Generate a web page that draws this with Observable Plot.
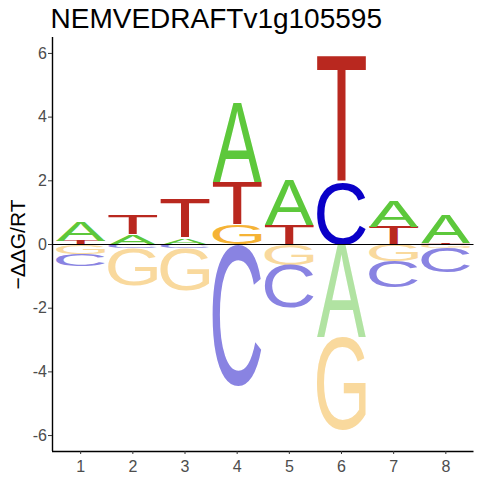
<!DOCTYPE html>
<html>
<head>
<meta charset="utf-8">
<script src="https://cdn.jsdelivr.net/npm/d3@7"></script>
<script src="https://cdn.jsdelivr.net/npm/@observablehq/plot@0.6"></script>
<style>
  html, body { margin: 0; padding: 0; background: #fff; }
  #chart { width: 480px; height: 480px; }
</style>
</head>
<body>
<div id="chart"></div>
<script>
// ---- data ----
const title = "NEMVEDRAFTv1g105595";
const yLabel = "\u2212\u0394\u0394G/RT";
const positions = [1, 2, 3, 4, 5, 6, 7, 8];
const scoreA = [0.59, 0.33, 0.21, 2.48, 1.39, -2.90, 0.80, 0.88];
const scoreC = [-0.38, -0.12, -0.12, -4.43, -1.35, 1.96, -0.82, -0.79];
const scoreG = [-0.30, -1.17, -1.33, 0.62, -0.64, -2.95, -0.52, -0.10];
const scoreT = [0.11, 0.59, 1.20, 1.34, 0.61, 3.96, 0.55, 0.05];
const xTicks = [1, 2, 3, 4, 5, 6, 7, 8];
const yTicks = [-6, -4, -2, 0, 2, 4, 6];

const colorsPos = {A: "#5DC83B", C: "#0A00C8", G: "#F5B335", T: "#B9281F"};
const colorsNeg = {A: "#B1E3A2", C: "#8983E2", G: "#F9D99D", T: "#DC9490"};

const xDomain = [0.46, 8.54];
const yDomain = [-6.5, 6.5];
const halfWidth = 0.47;
const LETTER_FONT = "'Liberation Sans'";
const LETTER_WEIGHT = 400;
const AXIS_FONT = "'Liberation Sans', Arial, sans-serif";

// ---- build stacked letters ----
const scores = {A: scoreA, C: scoreC, G: scoreG, T: scoreT};
const letters = [];
positions.forEach((p, i) => {
  const items = Object.keys(scores).map(b => ({base: b, v: scores[b][i]}));
  const pos = items.filter(d => d.v > 0).sort((a, b) => a.v - b.v);
  const neg = items.filter(d => d.v < 0).sort((a, b) => b.v - a.v);
  let acc = 0;
  for (const d of pos) {
    letters.push({pos: p, base: d.base, y0: acc, y1: acc + d.v, color: colorsPos[d.base]});
    acc += d.v;
  }
  acc = 0;
  for (const d of neg) {
    letters.push({pos: p, base: d.base, y0: acc + d.v, y1: acc, color: colorsNeg[d.base]});
    acc += d.v;
  }
});
letters.forEach(d => d.mid = (d.y0 + d.y1) / 2);

// ---- glyph ink metrics ----
const ctx = document.createElement("canvas").getContext("2d");
ctx.font = `${LETTER_WEIGHT} 100px ${LETTER_FONT}`;
const metrics = {};
for (const b of "ACGT") {
  const m = ctx.measureText(b);
  metrics[b] = {l: m.actualBoundingBoxLeft, r: m.actualBoundingBoxRight,
                a: m.actualBoundingBoxAscent, d: m.actualBoundingBoxDescent};
}

const plot = Plot.plot({
  width: 480,
  height: 480,
  marginLeft: 52,
  marginRight: 6.5,
  marginTop: 37,
  marginBottom: 29,
  style: {fontFamily: AXIS_FONT, background: "#fff"},
  x: {domain: xDomain},
  y: {domain: yDomain},
  marks: [
    Plot.text(letters, {
      x: "pos", y: "mid", text: "base", fill: "color",
      ariaDescription: "logo-letters"
    }),
    Plot.ruleY([0], {stroke: "#000", strokeWidth: 1}),
    Plot.ruleX([xDomain[0]], {stroke: "#000", strokeWidth: 1.4}),
    Plot.ruleY([yDomain[0]], {stroke: "#000", strokeWidth: 1.4}),
    Plot.axisX({ticks: xTicks, tickFormat: d => String(d), tickSize: 3, tickPadding: 6,
      fontSize: 16, fill: "#4D4D4D", stroke: "#333", label: null}),
    Plot.axisY({ticks: yTicks, tickFormat: d => String(d), tickSize: 4, tickPadding: 1.5,
      fontSize: 16, fill: "#4D4D4D", stroke: "#333", label: null}),
    Plot.text([title], {frameAnchor: "top-left", text: d => d, textAnchor: "start",
      lineAnchor: "middle", dx: -2, dy: -18.5, fontSize: 28, fill: "#000"}),
    Plot.text([yLabel], {frameAnchor: "left", text: d => d, rotate: -90,
      textAnchor: "middle", lineAnchor: "middle", dx: -34, fontSize: 21, fill: "#000"})
  ]
});

document.getElementById("chart").appendChild(plot);

// ---- stretch each letter to fill its box, via the plot's own scales ----
const sx = plot.scale("x"), sy = plot.scale("y");
const g = plot.querySelector('g[aria-description="logo-letters"]');
const texts = g.querySelectorAll("text");
texts.forEach((t, k) => {
  const d = letters[k];
  const xl = sx.apply(d.pos - halfWidth), xr = sx.apply(d.pos + halfWidth);
  const yt = sy.apply(d.y1), yb = sy.apply(d.y0);
  const m = metrics[d.base];
  const kx = (xr - xl) / (m.l + m.r);
  const ky = (yb - yt) / (m.a + m.d);
  t.removeAttribute("x"); t.removeAttribute("y"); t.removeAttribute("dy");
  t.setAttribute("text-anchor", "start");
  t.setAttribute("font-size", 100);
  t.setAttribute("font-family", LETTER_FONT);
  t.setAttribute("font-weight", LETTER_WEIGHT);
  t.setAttribute("transform", `translate(${xl},${yt}) scale(${kx},${ky}) translate(${m.l},${m.a})`);
});
</script>
</body>
</html>
